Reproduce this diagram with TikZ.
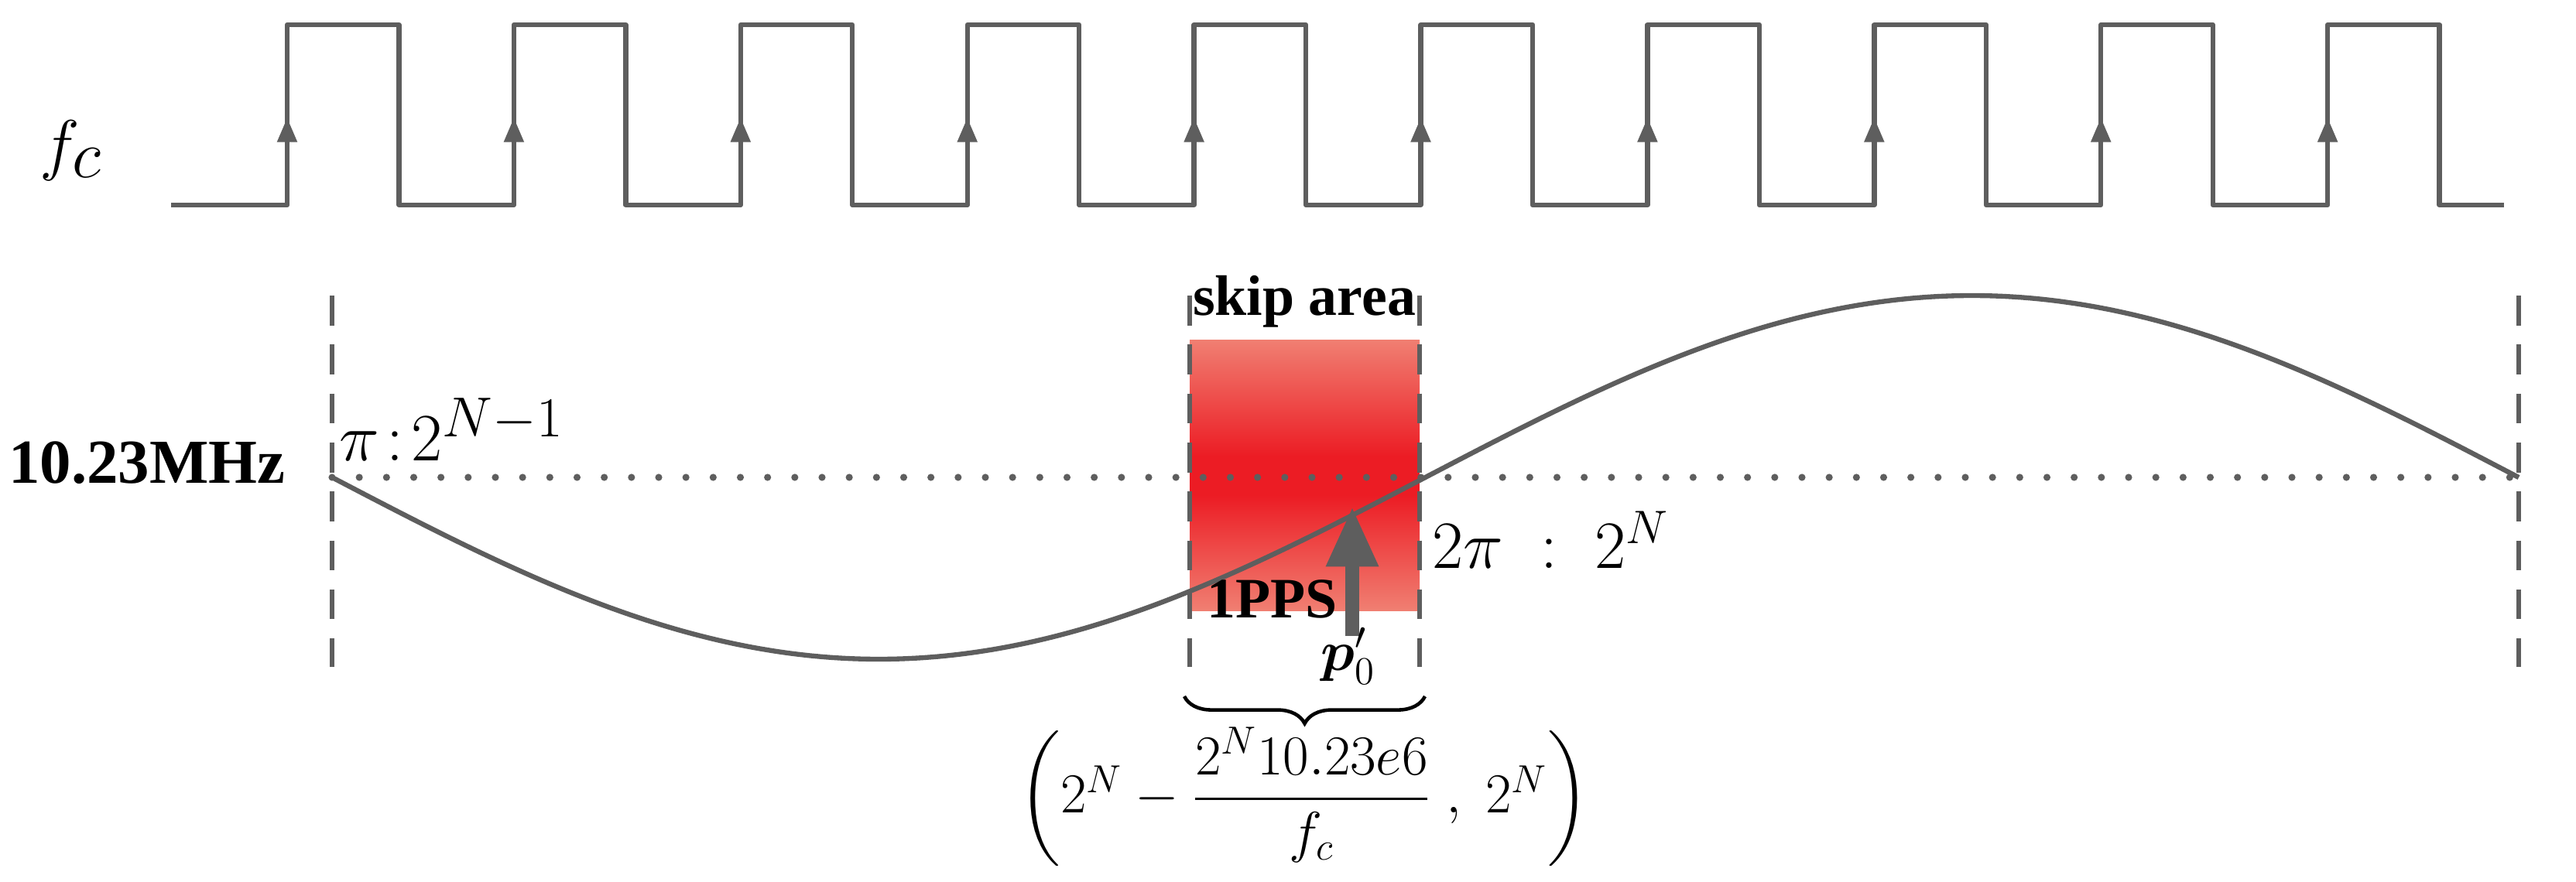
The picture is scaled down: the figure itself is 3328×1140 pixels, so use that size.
\documentclass[tikz,border=0pt]{standalone}
\usepackage{amsmath}
\usepackage{fontspec}
\setmainfont{Liberation Serif}
\usetikzlibrary{arrows.meta,decorations.pathreplacing}
\definecolor{lg}{HTML}{5E5E5E}
\definecolor{rr}{HTML}{EC1C24}
\definecolor{rl}{HTML}{F07F72}
\begin{document}
\begin{tikzpicture}[x=0.01cm,y=-0.01cm,
  wave/.style={draw=lg,line width=1.8pt},
  vdash/.style={draw=lg,line width=1.6pt,dash pattern=on 11pt off 7pt},
  edge/.style={draw=lg,line width=1.8pt,-{Triangle[length=9pt,width=7pt]}}]
\useasboundingbox (0,0) rectangle (3328,1140);
% red skip area
\shade[top color=rl,bottom color=rr] (1537,439) rectangle (1834,590);
\fill[rr] (1537,589) rectangle (1834,641);
\shade[top color=rr,bottom color=rl] (1537,640) rectangle (1834,789);
% square wave
\draw[wave,line join=round] (221,265)
  \foreach \i in {0,...,9}{ -- ({371+292.9*\i},265) -- ({371+292.9*\i},32) -- ({515.5+292.9*\i},32) -- ({515.5+292.9*\i},265)} -- (3235,265);
\foreach \i in {0,...,9}{
  \coordinate (ea\i) at ({371+292.9*\i},265);
  \coordinate (eb\i) at ({371+292.9*\i},152);
  \draw[edge] (ea\i) -- (eb\i);}
% dashed verticals
\foreach \x/\n in {429/v1,1537/v2,1834/v3,3254/v4}{
  \coordinate (\n t) at (\x,382); \coordinate (\n b) at (\x,862);
  \draw[vdash] (\n t) -- (\n b);}
% dotted line
\coordinate (dl) at (429,617); \coordinate (dr) at (3254,617);
\draw[lg,line width=2.6pt,dash pattern=on 0pt off 10pt,line cap=round] (dl) -- (dr);
% sine
\draw[wave] plot[domain=0:2825,samples=120,smooth] ({\x+429},{617+235*sin(0.127434*\x)});
% arrow 1PPS
\coordinate (pa) at (1747,822); \coordinate (pb) at (1747,655);
\draw[draw=lg,line width=5pt,-{Triangle[length=22pt,width=18pt]}] (pa) -- (pb);
% texts
\node (fc) at (92,195) {\fontsize{48}{48}\selectfont$f_c$};
\node (mhz) at (190,598) {\fontsize{23}{23}\selectfont\bfseries 10.23MHz};
\node[anchor=west] (pi) at (426,555) {\fontsize{31}{31}\selectfont$\pi\!:\! 2^{N-1}$};
\node[anchor=west] (tpi) at (1838,698) {\fontsize{27}{27}\selectfont$2\pi\ :\ 2^{N}$};
\node (skip) at (1685,390) {\fontsize{21}{21}\selectfont\bfseries skip area};
\node[anchor=east] (pps) at (1740,774) {\fontsize{21}{21}\selectfont\bfseries 1PPS};
\node (p0) at (1742,848) {\fontsize{22}{22}\selectfont$\boldsymbol{p}'_{0}$};
\draw[decorate,decoration={brace,mirror,amplitude=10pt},line width=1.3pt] (1530,900) -- (1841,900);
\node (form) at (1685,1030) {\fontsize{22}{22}\selectfont$\left(2^{N}-\dfrac{2^{N}10.23e6}{f_c}\ ,\ 2^{N}\right)$};
\end{tikzpicture}
\end{document}
